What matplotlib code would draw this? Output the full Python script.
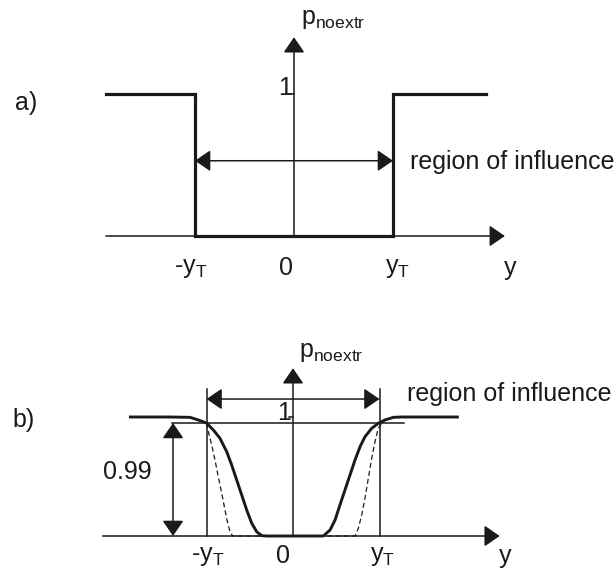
import matplotlib
matplotlib.use("Agg")
import matplotlib.pyplot as plt
from matplotlib.patches import FancyArrowPatch, ArrowStyle

plt.rcParams['font.family']=['Liberation Sans','DejaVu Sans']
plt.rcParams['mathtext.fontset']='custom'
plt.rcParams['mathtext.rm']='Liberation Sans'
plt.rcParams['mathtext.it']='Liberation Sans'

# a) step function (x in units of y_T)
step_x=[-1.90,-1.0,-1.0,1.0,1.0,1.94]
step_y=[1,1,0,0,1,1]

# b) smooth curve
solid_x=[-1.88,-1.42,-1.19,-1.095,-1.0,-0.921,-0.844,-0.766,-0.709,-0.651,-0.593,
         -0.535,-0.477,-0.420,-0.362,-0.304,
         0.350,0.428,0.486,0.543,0.601,0.659,0.717,0.775,0.832,0.910,0.986,
         1.064,1.160,1.257,1.90]
solid_y=[1.0,1.0,0.997,0.975,0.95,0.891,0.821,0.708,0.597,0.471,0.345,
         0.218,0.107,0.036,0.003,0.0,
         0.0,0.050,0.134,0.261,0.387,0.513,0.639,0.750,0.834,0.905,0.947,
         0.975,0.997,1.0,1.0]
dash_x=[-1.0,-0.979,-0.940,-0.902,-0.864,-0.824,-0.786,-0.759,-0.728,-0.697,
        0.717,0.755,0.794,0.832,0.871,0.910,0.948,0.986,1.025]
dash_y=[0.95,0.877,0.765,0.639,0.498,0.359,0.218,0.120,0.036,0.0,
        0.0,0.065,0.176,0.317,0.485,0.653,0.793,0.905,0.947]
level_99=0.95   # drawn level of the 0.99 line (schematic)

W,H=615,579
fig=plt.figure(figsize=(W/100,H/100),dpi=100)

def panel(top,bot,ox,oy,ux,uy):
    ax=fig.add_axes([0,1-bot/H,1,(bot-top)/H])
    ax.set_xlim(-ox/ux,(W-ox)/ux)
    ax.set_ylim((oy-bot)/uy,(oy-top)/uy)
    ax.axis("off")
    return ax

def arrow(ax,p0,p1,style="-|>",lw=1.1):
    a=FancyArrowPatch(p0,p1,arrowstyle=ArrowStyle(style,head_length=9.5,head_width=6.5),
                      mutation_scale=1,shrinkA=0,shrinkB=0,lw=lw,color="#1a1a1a",zorder=3)
    ax.add_patch(a)

fs=18
tc="#1a1a1a"

# ---------- panel a ----------
ax=panel(0,290,294,236,99,142)
arrow(ax,(-1.90,0),(2.13,0))
arrow(ax,(0,0),(0,1.40))
ax.plot([-0.05,0],[1,1],color=tc,lw=1.1)
ax.plot(step_x,step_y,color=tc,lw=2.3,solid_joinstyle="miter",zorder=4)
arrow(ax,(-1,0.53),(1,0.53),style="<|-|>")
ax.text(-2.71,0.94,"a)",fontsize=fs,color=tc,ha="center",va="center")
ax.text(-0.02,0.99,"1",fontsize=fs,color=tc,ha="right",va="baseline")
ax.text(0.07,1.53,r"$\mathrm{p}_{\mathrm{noextr}}$",fontsize=fs,color=tc,ha="left",va="center")
ax.text(1.17,0.52,"region of influence",fontsize=fs,color=tc,ha="left",va="center")
ax.text(-1.04,-0.225,r"-$\mathrm{y}_{\mathrm{T}}$",fontsize=fs,color=tc,ha="center",va="center")
ax.text(-0.08,-0.225,"0",fontsize=fs,color=tc,ha="center",va="center")
ax.text(1.05,-0.225,r"$\mathrm{y}_{\mathrm{T}}$",fontsize=fs,color=tc,ha="center",va="center")
ax.text(2.18,-0.225,"y",fontsize=fs,color=tc,ha="center",va="center")

# ---------- panel b ----------
ax=panel(290,579,293,536,86.5,119)
arrow(ax,(-2.20,0),(2.39,0))
arrow(ax,(0,0),(0,1.41))
ax.plot([-0.05,0],[1,1],color=tc,lw=1.1)
ax.plot([-1,-1],[0,1.235],color=tc,lw=1.1)
ax.plot([1,1],[0,1.235],color=tc,lw=1.1)
ax.plot([-1.40,1.28],[level_99,level_99],color=tc,lw=1.1)
arrow(ax,(-1,1.151),(1,1.151),style="<|-|>")
arrow(ax,(-1.387,0),(-1.387,level_99),style="<|-|>")
ax.plot(dash_x,dash_y,color=tc,lw=0.9,ls=(0,(4,2.5)),zorder=4)
ax.plot(solid_x,solid_y,color=tc,lw=2.1,zorder=5)
ax.text(-3.12,0.975,"b)",fontsize=fs,color=tc,ha="center",va="center")
ax.text(-1.91,0.54,"0.99",fontsize=fs,color=tc,ha="center",va="center")
ax.text(-0.02,0.975,"1",fontsize=fs,color=tc,ha="right",va="baseline")
ax.text(0.07,1.546,r"$\mathrm{p}_{\mathrm{noextr}}$",fontsize=fs,color=tc,ha="left",va="center")
ax.text(1.318,1.19,"region of influence",fontsize=fs,color=tc,ha="left",va="center")
ax.text(-0.99,-0.168,r"-$\mathrm{y}_{\mathrm{T}}$",fontsize=fs,color=tc,ha="center",va="center")
ax.text(-0.116,-0.168,"0",fontsize=fs,color=tc,ha="center",va="center")
ax.text(1.03,-0.168,r"$\mathrm{y}_{\mathrm{T}}$",fontsize=fs,color=tc,ha="center",va="center")
ax.text(2.45,-0.168,"y",fontsize=fs,color=tc,ha="center",va="center")

fig.savefig("out.png",dpi=100)
